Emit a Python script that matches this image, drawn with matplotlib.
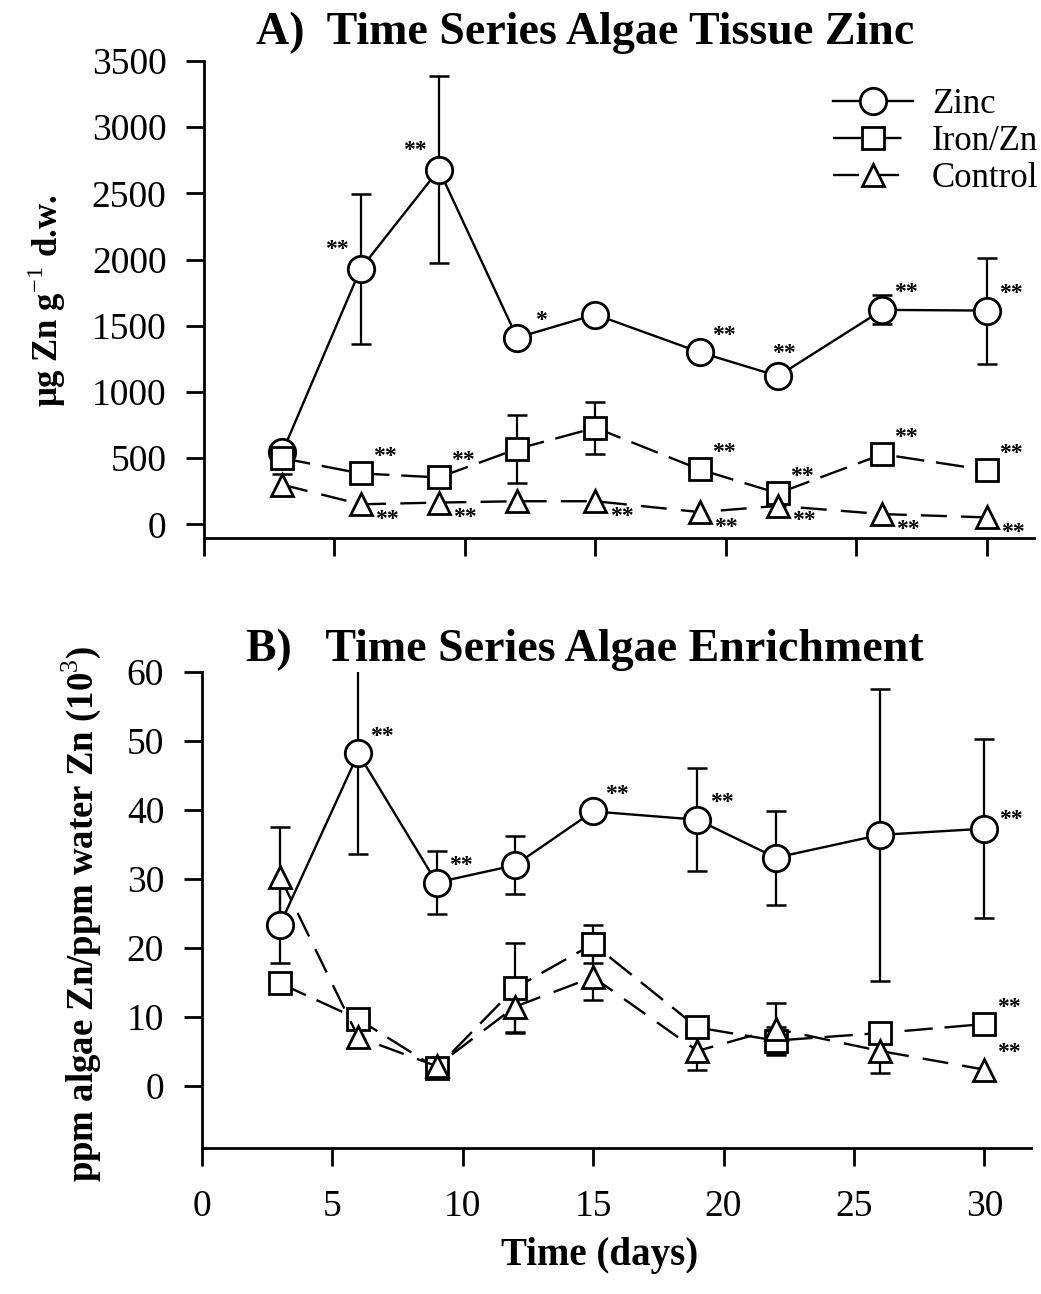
import numpy as np
import matplotlib

matplotlib.use("Agg")
import matplotlib.pyplot as plt  # noqa: E402
from matplotlib.lines import Line2D  # noqa: E402

plt.rcParams["font.family"] = ["Liberation Serif", "DejaVu Serif"]
plt.rcParams["mathtext.fontset"] = "custom"
plt.rcParams["mathtext.rm"] = "Liberation Serif"
plt.rcParams["mathtext.bf"] = "Liberation Serif:bold"

nan = np.nan
days = [3, 6, 9, 12, 15, 19, 22, 26, 30]

# A) algae tissue zinc, ug Zn per g dry weight (mean, error)
zinc_tissue = [545, 1930, 2680, 1410, 1585, 1300, 1120, 1620, 1615]
zinc_tissue_err = [nan, 565, 705, nan, nan, nan, nan, 110, 400]
iron_tissue = [500, 385, 355, 570, 730, 415, 235, 530, 410]
iron_tissue_err = [nan, nan, nan, 255, 195, nan, nan, nan, nan]
ctrl_tissue = [300, 152, 165, 175, 175, 93, 140, 78, 53]
ctrl_tissue_err = [80, nan, nan, nan, nan, nan, nan, nan, nan]

zinc_tissue_sig = ["", "**", "**", "*", "", "**", "**", "**", "**"]
iron_tissue_sig = ["", "**", "**", "", "", "**", "**", "**", "**"]
ctrl_tissue_sig = ["", "**", "**", "", "**", "**", "**", "**", "**"]

# B) enrichment, ppm algae Zn / ppm water Zn (x 10^3)
zinc_enrich = [23.4, 48.2, 29.5, 32.0, 39.8, 38.6, 33.1, 36.4, 37.3]
zinc_enrich_err = [5.6, 14.5, 4.5, 4.2, nan, 7.5, 6.8, 21.2, 13.0]
iron_enrich = [14.9, 9.7, 2.6, 14.2, 20.6, 8.5, 6.6, 7.7, 9.0]
iron_enrich_err = [nan, nan, nan, 6.5, 2.8, nan, 2.0, 1.3, nan]
ctrl_enrich = [30.3, 7.1, 2.9, 11.5, 15.8, 5.1, 8.3, 5.1, 2.4]
ctrl_enrich_err = [7.2, nan, nan, 3.6, 3.3, 2.8, 3.8, 3.2, nan]

zinc_enrich_sig = ["", "**", "**", "", "**", "**", "", "", "**"]
iron_enrich_sig = ["", "", "", "", "", "", "", "", "**"]
ctrl_enrich_sig = ["", "", "", "", "", "", "", "", "**"]

# where each significance mark sits relative to its point (pixels)
OFFS = {"ul": (-24, 19), "ur": (24, 17), "u": (6, 23), "r": (26, 9), "lr": (26, -15)}

STYLE = {
    "Zinc": dict(marker="o", ms=19, ls="-"),
    "Iron/Zn": dict(marker="s", ms=16, ls=(0, (12, 5))),
    "Control": dict(marker="^", ms=16, ls=(0, (11, 6))),
}
LW = 2.0


def draw_series(ax, y, err, name, sig, place):
    st = STYLE[name]
    y = np.asarray(y, dtype=float)
    err = np.asarray(err, dtype=float)
    x = np.asarray(days, dtype=float)
    ok = ~np.isnan(err)
    if ok.any():
        ax.errorbar(x[ok], y[ok], yerr=err[ok], fmt="none", ecolor="black",
                    elinewidth=1.6, capsize=7.5, capthick=1.8, zorder=2)
    ax.plot(x, y, color="black", lw=1.7, ls=st["ls"], marker=st["marker"],
            ms=st["ms"], mfc="white", mec="black", mew=LW, zorder=3)
    for xi, yi, s, p in zip(x, y, sig, place):
        if s:
            ax.annotate(s, (xi, yi), xytext=OFFS[p], textcoords="offset pixels",
                        ha="center", va="center", fontsize=17, fontweight="bold",
                        zorder=5)


def style_axes(ax, ylim, yticks, show_xlabels):
    ax.set_xlim(0, 31.8)
    ax.set_ylim(*ylim)
    ax.set_yticks(yticks)
    ax.set_xticks(range(0, 31, 5))
    for side in ("top", "right"):
        ax.spines[side].set_visible(False)
    for side in ("left", "bottom"):
        ax.spines[side].set_linewidth(LW)
    ax.spines["left"].set_bounds(ylim[0], yticks[-1])
    ax.tick_params(direction="out", length=13, width=LW, labelsize=27)
    ax.tick_params(axis="y", pad=14)
    ax.tick_params(axis="x", pad=17)
    if not show_xlabels:
        ax.tick_params(axis="x", labelbottom=False)


fig = plt.figure(figsize=(10.41, 12.94), dpi=100)

# ---- A: tissue zinc ----
axA = fig.add_axes([0.196, 0.5845, 0.797, 0.3684])
draw_series(axA, zinc_tissue, zinc_tissue_err, "Zinc", zinc_tissue_sig,
            ["ur", "ul", "ul", "ur", "ur", "ur", "u", "ur", "ur"])
draw_series(axA, iron_tissue, iron_tissue_err, "Iron/Zn", iron_tissue_sig, ["ur"] * 9)
draw_series(axA, ctrl_tissue, ctrl_tissue_err, "Control", ctrl_tissue_sig, ["lr"] * 9)
style_axes(axA, (-100, 3500), list(range(0, 3501, 500)), False)

handles = [Line2D([], [], color="black", lw=1.7, ls=STYLE[n]["ls"], marker=STYLE[n]["marker"],
                  ms=STYLE[n]["ms"], mfc="white", mec="black", mew=LW)
           for n in ("Zinc", "Iron/Zn", "Control")]
fig.legend(handles, ["Zinc", "Iron/Zn", "Control"], loc="upper left",
           bbox_to_anchor=(833 / 1041, 1 - 88 / 1294), frameon=False, fontsize=25,
           handlelength=2.3, handletextpad=0.55, labelspacing=0.12,
           borderpad=0, borderaxespad=0)

fig.text(0.562, 1 - 44 / 1294, "A)  Time Series Algae Tissue Zinc", ha="center",
         va="baseline", fontsize=33, fontweight="bold")
fig.text(0.045, 1 - 301 / 1294, r"μg Zn g$^{-1}$ d.w.",
         rotation=90, ha="center", va="center", fontsize=25, fontweight="bold")

# ---- B: enrichment ----
axB = fig.add_axes([0.1938, 0.1126, 0.797, 0.3681])
draw_series(axB, zinc_enrich, zinc_enrich_err, "Zinc", zinc_enrich_sig,
            ["ur", "ur", "ur", "ur", "ur", "ur", "ur", "ur", "r"])
draw_series(axB, iron_enrich, iron_enrich_err, "Iron/Zn", iron_enrich_sig, ["ur"] * 9)
draw_series(axB, ctrl_enrich, ctrl_enrich_err, "Control", ctrl_enrich_sig, ["ur"] * 9)
style_axes(axB, (-9, 60), list(range(0, 61, 10)), True)

fig.text(0.562, 1 - 661 / 1294, "B)   Time Series Algae Enrichment", ha="center",
         va="baseline", fontsize=33, fontweight="bold")
fig.text(0.078, 1 - 914 / 1294, r"ppm algae Zn/ppm water Zn (10$^{3}$)",
         rotation=90, ha="center", va="center", fontsize=26.5, fontweight="bold")
fig.text(600 / 1041, 1 - 1255 / 1294, "Time (days)", ha="center", va="center",
         fontsize=28, fontweight="bold")

fig.savefig("out.png", dpi=100)
